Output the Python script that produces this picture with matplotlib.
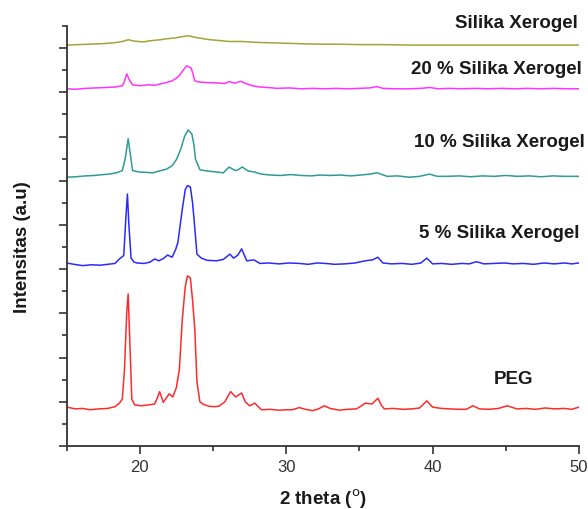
import matplotlib
matplotlib.use("Agg")
import matplotlib.pyplot as plt
from matplotlib.ticker import MultipleLocator

plt.rcParams['font.family'] = ['Liberation Sans', 'DejaVu Sans']

# XRD traces: (2 theta, intensity a.u., stacked)
peg = [(15.0, 88), (15.6, 84), (16.1, 85), (16.6, 82), (17.2, 84), (17.8, 85),
       (18.3, 89), (18.6, 97), (18.8, 106), (18.95, 174), (19.1, 300), (19.2, 344),
       (19.3, 250), (19.45, 106), (19.65, 93), (20.1, 91), (20.6, 93), (21.0, 95),
       (21.15, 105), (21.35, 123), (21.6, 99), (21.8, 108), (22.0, 118), (22.25, 111),
       (22.5, 133), (22.7, 174), (22.9, 287), (23.1, 360), (23.25, 385), (23.45, 380),
       (23.6, 330), (23.75, 265), (23.9, 145), (24.1, 100), (24.3, 95), (24.7, 90),
       (25.1, 89), (25.4, 90), (25.8, 100), (26.2, 123), (26.55, 111), (26.95, 120),
       (27.2, 100), (27.5, 91), (27.85, 97), (28.3, 82), (28.9, 83), (29.5, 81),
       (30.0, 82), (30.4, 82), (30.9, 87), (31.3, 83), (31.8, 80), (32.2, 84),
       (32.6, 91), (33.0, 85), (33.65, 81), (34.2, 83), (34.8, 84), (35.1, 90),
       (35.4, 97), (35.85, 95), (36.26, 108), (36.5, 92), (36.7, 84), (37.3, 85),
       (38.0, 83), (38.6, 84), (39.1, 86), (39.6, 102), (40.0, 88), (40.6, 85),
       (41.2, 84), (41.8, 83), (42.3, 83), (42.75, 91), (43.2, 84), (43.8, 83),
       (44.5, 85), (45.1, 91), (45.75, 84), (46.4, 85), (47.0, 83), (47.7, 86),
       (48.3, 84), (49.0, 85), (49.5, 83), (50.0, 88)]

sx5 = [(15.0, 414), (15.5, 411), (16.1, 408), (16.7, 410), (17.3, 409), (17.8, 411),
       (18.3, 413), (18.6, 423), (18.9, 431), (19.05, 520), (19.15, 570), (19.25, 500),
       (19.4, 425), (19.6, 416), (19.8, 414), (20.3, 413), (20.7, 416), (21.0, 423),
       (21.3, 419), (21.6, 424), (21.9, 432), (22.2, 427), (22.45, 445), (22.6, 461),
       (22.9, 536), (23.1, 580), (23.25, 589), (23.45, 586), (23.6, 550), (23.7, 514),
       (23.9, 434), (24.2, 425), (24.6, 420), (25.25, 419), (25.7, 422), (26.15, 434),
       (26.4, 425), (26.7, 432), (26.95, 446), (27.3, 419), (27.8, 421), (28.2, 413),
       (28.8, 414), (29.5, 412), (30.2, 414), (30.9, 413), (31.5, 411), (32.1, 414),
       (32.7, 413), (33.3, 411), (34.0, 412), (34.7, 414), (35.4, 419), (35.9, 421),
       (36.26, 427), (36.6, 414), (37.2, 412), (37.9, 413), (38.6, 411), (39.2, 414),
       (39.6, 425), (40.0, 412), (40.6, 413), (41.3, 411), (42.0, 413), (42.5, 412),
       (43.0, 417), (43.5, 412), (44.2, 413), (44.9, 414), (45.5, 412), (46.2, 413),
       (46.9, 411), (47.6, 414), (48.3, 412), (49.0, 414), (49.5, 412), (50.0, 414)]

sx10 = [(15.0, 608), (15.6, 609), (16.3, 611), (16.9, 612), (17.5, 614), (17.9, 615),
        (18.4, 618), (18.8, 623), (19.0, 650), (19.2, 695), (19.35, 660), (19.5, 623),
        (19.9, 620), (20.4, 619), (20.9, 618), (21.3, 622), (21.8, 626), (22.2, 634),
        (22.5, 648), (22.8, 672), (23.05, 700), (23.3, 715), (23.55, 706), (23.7, 680),
        (23.8, 649), (24.1, 625), (24.6, 622), (25.2, 620), (25.7, 618), (26.1, 631),
        (26.4, 625), (26.6, 623), (27.0, 631), (27.4, 622), (27.8, 620), (28.3, 615),
        (28.9, 613), (29.6, 612), (30.3, 614), (31.0, 612), (31.7, 611), (32.3, 613),
        (33.0, 612), (33.7, 613), (34.4, 611), (35.1, 613), (35.7, 615), (36.2, 618),
        (36.9, 610), (37.6, 611), (38.4, 608), (39.1, 610), (39.8, 615), (40.3, 610),
        (41.0, 610), (41.8, 611), (42.6, 609), (43.4, 611), (44.2, 610), (45.0, 612),
        (45.8, 610), (46.6, 611), (47.4, 609), (48.2, 611), (49.0, 610), (50.0, 610)]

sx20 = [(15.0, 808), (15.6, 807), (16.3, 809), (17.0, 810), (17.7, 811), (18.3, 812),
        (18.8, 815), (18.95, 825), (19.1, 842), (19.25, 830), (19.5, 817), (20.0, 815),
        (20.6, 817), (21.0, 816), (21.4, 819), (21.8, 822), (22.2, 826), (22.5, 832),
        (22.7, 838), (23.0, 852), (23.2, 860), (23.5, 855), (23.6, 845), (23.75, 826),
        (24.1, 823), (24.7, 822), (25.4, 821), (25.8, 820), (26.1, 824), (26.5, 821),
        (26.9, 825), (27.3, 819), (27.7, 815), (28.2, 812), (28.7, 811), (29.4, 809),
        (30.2, 810), (31.0, 808), (31.8, 809), (32.6, 808), (33.4, 809), (34.2, 808),
        (35.0, 809), (35.7, 810), (36.2, 813), (36.6, 809), (37.4, 808), (38.4, 808),
        (39.2, 809), (39.8, 811), (40.4, 808), (41.2, 809), (42.0, 808), (42.9, 809),
        (43.8, 808), (44.7, 809), (45.6, 808), (46.5, 809), (47.4, 808), (48.3, 809),
        (49.2, 808), (50.0, 808)]

xerogel = [(15.0, 907), (15.8, 908), (16.6, 909), (17.4, 910), (18.2, 912), (18.8, 915),
           (19.2, 919), (19.6, 916), (20.2, 914), (20.8, 917), (21.4, 919), (21.8, 921),
           (22.4, 923), (22.9, 926), (23.3, 928), (23.7, 925), (24.2, 922), (24.8, 919),
           (25.5, 917), (26.1, 915), (27.0, 915), (28.0, 913), (29.0, 912), (30.0, 911),
           (31.0, 910), (32.3, 909), (33.5, 909), (35.0, 908), (36.5, 908), (38.4, 907),
           (40.0, 907), (42.0, 907), (44.0, 907), (46.0, 907), (48.0, 907), (50.0, 907)]

series = [peg, sx5, sx10, sx20, xerogel]
colors = ['#ff2a2a', '#2a2aff', '#2f9a96', '#ff33ff', '#a3a33a']
labels = ['PEG', '5 % Silika Xerogel', '10 % Silika Xerogel', '20 % Silika Xerogel', 'Silika Xerogel']
label_pos = [(45.55, 152, 'center'), (50.0, 484, 'right'), (50.4, 688, 'right'),
             (50.2, 853, 'right'), (49.9, 957, 'right')]

fig = plt.figure(figsize=(5.88, 5.10), dpi=100)
ax = fig.add_axes([0.1134, 0.1235, 0.8713, 0.8235])

for data, c in zip(series, colors):
    x = [p[0] for p in data]
    y = [p[1] for p in data]
    ax.plot(x, y, color=c, linewidth=1.1)

for lab, (tx, ty, ha) in zip(labels, label_pos):
    ax.text(tx, ty, lab, ha=ha, va='center', fontsize=13.5, fontweight='bold',
            color='#1a1a1a', clip_on=False)

ax.set_xlim(15, 50)
ax.set_ylim(0, 950)
ax.xaxis.set_major_locator(MultipleLocator(10))
ax.xaxis.set_minor_locator(MultipleLocator(5))
ax.yaxis.set_major_locator(MultipleLocator(100))
ax.yaxis.set_minor_locator(MultipleLocator(50))
ax.tick_params(which='major', length=6, width=1.2, color='#333333',
               labelsize=12, labelcolor='#333333')
ax.tick_params(which='minor', length=3.5, width=1.2, color='#333333')
ax.tick_params(axis='y', which='both', labelleft=False)

for side in ['top', 'right']:
    ax.spines[side].set_visible(False)
for side in ['left', 'bottom']:
    ax.spines[side].set_linewidth(1.3)
    ax.spines[side].set_color('#333333')

ax.set_xlabel('2 theta ($^{\\mathrm{o}}$)', fontsize=13.5, fontweight='bold',
              color='#1a1a1a', labelpad=9)
ax.set_ylabel('Intensitas (a.u)', fontsize=13.5, fontweight='bold',
              color='#1a1a1a', labelpad=17)
ax.yaxis.set_label_coords(-0.069, 0.476)

fig.savefig('out.png', dpi=100)
